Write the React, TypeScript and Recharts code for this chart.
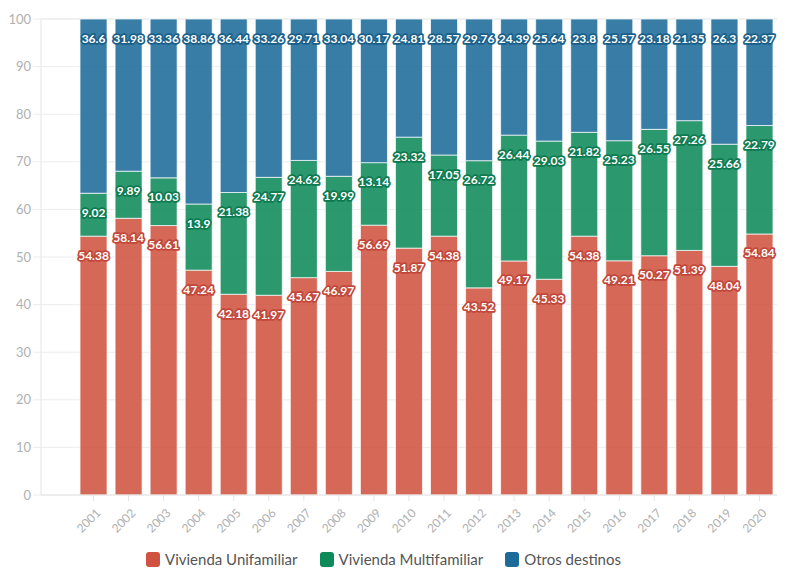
import React from 'react';
import { BarChart, Bar, XAxis, YAxis, CartesianGrid, Legend, LabelList } from 'recharts';

const years = ['2001', '2002', '2003', '2004', '2005', '2006', '2007', '2008', '2009', '2010', '2011', '2012', '2013', '2014', '2015', '2016', '2017', '2018', '2019', '2020'];
const unifamiliar = [54.38, 58.14, 56.61, 47.24, 42.18, 41.97, 45.67, 46.97, 56.69, 51.87, 54.38, 43.52, 49.17, 45.33, 54.38, 49.21, 50.27, 51.39, 48.04, 54.84];
const multifamiliar = [9.02, 9.89, 10.03, 13.9, 21.38, 24.77, 24.62, 19.99, 13.14, 23.32, 17.05, 26.72, 26.44, 29.03, 21.82, 25.23, 26.55, 27.26, 25.66, 22.79];
const otros = [36.6, 31.98, 33.36, 38.86, 36.44, 33.26, 29.71, 33.04, 30.17, 24.81, 28.57, 29.76, 24.39, 25.64, 23.8, 25.57, 23.18, 21.35, 26.3, 22.37];
const yTicks = [0, 10, 20, 30, 40, 50, 60, 70, 80, 90, 100];

const series = [
  { key: 'uni', name: 'Vivienda Unifamiliar', color: '#cf5340', outline: '#c2473a' },
  { key: 'multi', name: 'Vivienda Multifamiliar', color: '#0f8a5a', outline: '#0d7a50' },
  { key: 'otros', name: 'Otros destinos', color: '#1d6b99', outline: '#1a5f8a' },
];

const data = years.map((year, i) => ({
  year,
  uni: unifamiliar[i],
  multi: multifamiliar[i],
  otros: otros[i],
}));

const FONT = 'Lato, "Open Sans", sans-serif';

const makeLabel = (outline: string) => (props: any) => {
  const { x, y, width, value } = props;
  return (
    <text
      x={Number(x) + Number(width) / 2}
      y={Number(y) + 19}
      textAnchor="middle"
      dominantBaseline="central"
      fill="#fff"
      stroke={outline}
      strokeWidth={3.5}
      strokeLinejoin="round"
      paintOrder="stroke"
      fontSize={12}
      fontWeight={700}
      fontFamily={FONT}
    >
      {value}
    </text>
  );
};

const YearTick = (props: any) => {
  const { x, y, payload } = props;
  return (
    <g transform={`translate(${x + 5},${y + 8})`}>
      <text transform="rotate(-45)" textAnchor="end" dy={4} fill="#b0b0b0" fontSize={12} fontFamily={FONT}>
        {payload.value}
      </text>
    </g>
  );
};

const LegendBox = () => (
  <div style={{ display: 'flex', justifyContent: 'center', gap: 22, paddingTop: 7, paddingRight: 10, fontFamily: FONT, fontSize: 15, color: '#555' }}>
    {series.map((s) => (
      <div key={s.key} style={{ display: 'flex', alignItems: 'center' }}>
        <span style={{ display: 'inline-block', width: 14, height: 15, borderRadius: 3, background: s.color, marginRight: 5 }} />
        {s.name}
      </div>
    ))}
  </div>
);

export default function App() {
  return (
    <div style={{ position: 'absolute', left: 0, top: 0, width: 796, height: 575, background: '#fff' }}>
      <BarChart
        width={796}
        height={575}
        data={data}
        margin={{ top: 19, right: 19, bottom: 4, left: 0 }}
        barCategoryGap="11.5%"
      >
        <CartesianGrid vertical={false} stroke="#ececec" />
        <XAxis
          dataKey="year"
          padding={{ left: 35, right: 0 }}
          height={48}
          interval={0}
          tick={<YearTick />}
          tickSize={6}
          stroke="#e4e4e4"
          tickLine={{ stroke: '#e4e4e4' }}
        />
        <YAxis
          domain={[0, 100]}
          ticks={yTicks}
          width={41}
          tickSize={8}
          stroke="#e4e4e4"
          tickLine={{ stroke: '#ececec' }}
          tick={{ fill: '#b0b0b0', fontSize: 13, fontFamily: FONT }}
        />
        <Legend verticalAlign="bottom" height={28} content={<LegendBox />} />
        {series.map((s) => (
          <Bar
            key={s.key}
            dataKey={s.key}
            name={s.name}
            stackId="a"
            fill={s.color}
            fillOpacity={0.88}
            stroke="rgba(255,255,255,0.7)"
            strokeWidth={1}
            isAnimationActive={false}
          >
            <LabelList dataKey={s.key} content={makeLabel(s.outline)} />
          </Bar>
        ))}
      </BarChart>
    </div>
  );
}
